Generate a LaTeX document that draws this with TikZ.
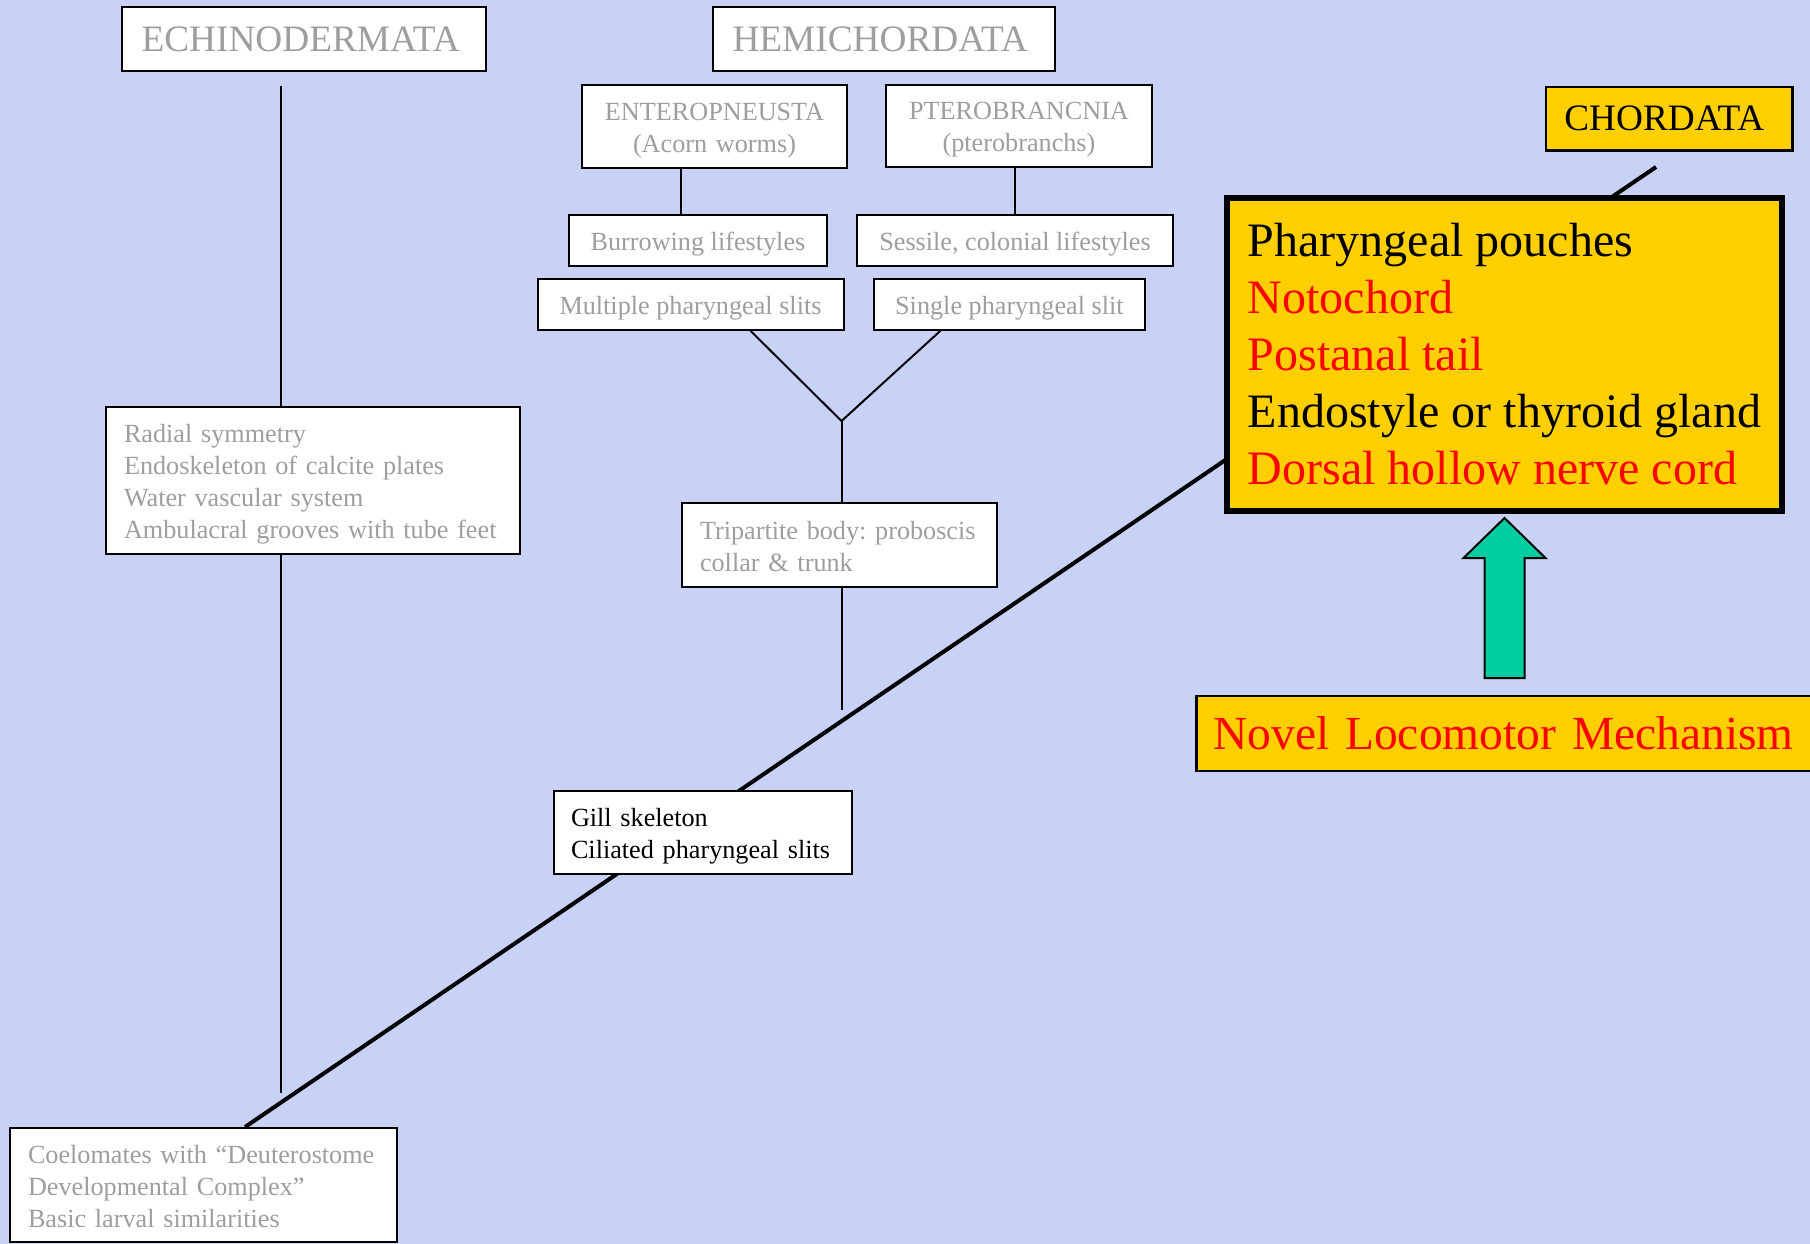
\documentclass[tikz,border=0pt]{standalone}
\usepackage{fontspec}
\setmainfont{Liberation Serif}
\usepackage{tikz}
\usetikzlibrary{positioning, arrows.meta, calc}
\definecolor{sfondo}{RGB}{200,210,246}
\definecolor{grigio}{RGB}{158,158,158}
\definecolor{giallo}{RGB}{255,207,0}
\definecolor{verde}{RGB}{0,206,160}
\frenchspacing

\begin{document}
\begin{tikzpicture}[x=1pt, y=-1pt]
    \tikzstyle{taxon} = [draw, line width=2pt, fill=white, text=grigio, font=\fontsize{37.3}{44}\selectfont, inner sep=0pt, inner xsep=19.5pt, align=left]
    \tikzstyle{trait} = [draw, line width=2pt, fill=white, text=grigio, font=\fontsize{26.2}{32}\selectfont, inner sep=0pt, align=center, execute at begin node={\rule{0pt}{26pt}}, execute at end node={\rule[-6pt]{0pt}{6pt}}]
    \tikzstyle{lista} = [trait, align=left, inner xsep=18pt]
    \tikzstyle{giallobox} = [draw, fill=giallo, inner sep=0pt]
    \tikzstyle{ramo} = [line width=2pt]
    \tikzstyle{freccia} = [draw, line width=2pt, fill=verde, line join=miter]

    % Sfondo
    \useasboundingbox (0,0) rectangle (1810,1244);
    \clip (0,0) rectangle (1810,1244);
    \fill[sfondo] (0,0) rectangle (1810,1244);

    % Base comune
    \node[lista, text width=351pt, minimum height=114pt] (coel) at (203.5,1185) {Coelomates with ``Deuterostome\\Developmental Complex''\\Basic larval similarities};
    \coordinate (chordtip) at (1656,167);
    \draw[line width=4pt] ($(coel.north)+(41.5,0)$) -- (chordtip);

    % Echinodermi
    \node[taxon, text width=325pt, minimum height=64pt] (echino) at (304,39) {ECHINODERMATA};
    \node[lista, text width=378pt, minimum height=147pt] (radial) at (313,480.5) {Radial symmetry\\Endoskeleton of calcite plates\\Water vascular system\\Ambulacral grooves with tube feet};
    \coordinate (echtop) at (280.5,86);
    \coordinate (echbot) at (280.5,1093);
    \draw[ramo] (echtop) -- (echtop |- radial.north);
    \draw[ramo] (echbot |- radial.south) -- (echbot);

    % Emicordati
    \node[taxon, text width=303pt, minimum height=64pt] (hemi) at (884,39) {HEMICHORDATA};
    \node[trait, text width=245pt, inner xsep=10pt, minimum height=83pt] (ent) at (714.5,126.7) {ENTEROPNEUSTA\\(Acorn worms)};
    \node[trait, text width=246pt, inner xsep=10pt, minimum height=82pt] (ptero) at (1019,126) {PTEROBRANCNIA\\(pterobranchs)};
    \node[trait, minimum width=258pt, minimum height=51pt] (burrow) at (698,240.3) {Burrowing lifestyles};
    \node[trait, minimum width=316pt, minimum height=51pt] (sessile) at (1015,240.5) {Sessile, colonial lifestyles};
    \node[trait, minimum width=306pt, minimum height=51pt] (multi) at (690.5,304.3) {Multiple pharyngeal slits};
    \node[trait, minimum width=271pt, minimum height=51pt] (single) at (1009.4,304.3) {Single pharyngeal slit};
    \node[lista, text width=279pt, minimum height=84pt] (tri) at (839.5,545) {Tripartite body: proboscis\\collar \& trunk};
    \coordinate (entx) at (681,0);
    \coordinate (fork) at (841.5,421);
    \coordinate (trunkend) at (841.5,710);
    \draw[ramo] (entx |- ent.south) -- (entx |- burrow.north);
    \draw[ramo] (sessile.north |- ptero.south) -- (sessile.north);
    \draw[ramo] ($(multi.south)+(60,0)$) -- (fork) -- ($(single.south)+(-69,0)$);
    \draw[ramo] (fork) -- (fork |- tri.north);
    \draw[ramo] (fork |- tri.south) -- (trunkend);

    % Cordati
    \node[lista, text=black, text width=264pt, inner xsep=17pt, minimum height=83pt] (gill) at (703,832.5) {Gill skeleton\\Ciliated pharyngeal slits};
    \node[giallobox, line width=2.5pt, inner xsep=18.5pt, align=left, text width=209.5pt, minimum height=63.5pt, font=\fontsize{37.3}{44}\selectfont] (chord) at (1669,118.7) {CHORDATA};
    \node[giallobox, line width=6pt, align=left, minimum width=555pt, minimum height=313pt, font=\fontsize{48}{57}\selectfont] (phar) at (1504.5,354.5) {\rule{0pt}{40pt}Pharyngeal pouches\\\textcolor{red}{Notochord}\\\textcolor{red}{Postanal tail}\\Endostyle or thyroid gland\hspace*{7pt}\\\textcolor{red}{Dorsal hollow nerve cord}\rule[-9pt]{0pt}{9pt}};
    \node[giallobox, line width=2.5pt, anchor=west, text=red, align=left, text width=616pt, inner xsep=17pt, minimum height=75pt, font=\fontsize{47.5}{57}\selectfont] (novel) at (1195,733.5) {Novel Locomotor Mechanism};
    \draw[freccia] ($(phar.south)+(0,4)$) -- ++(41,40) -- ++(-21,0) -- ++(0,120) -- ++(-40,0) -- ++(0,-120) -- ++(-21,0) -- cycle;
\end{tikzpicture}
\end{document}
